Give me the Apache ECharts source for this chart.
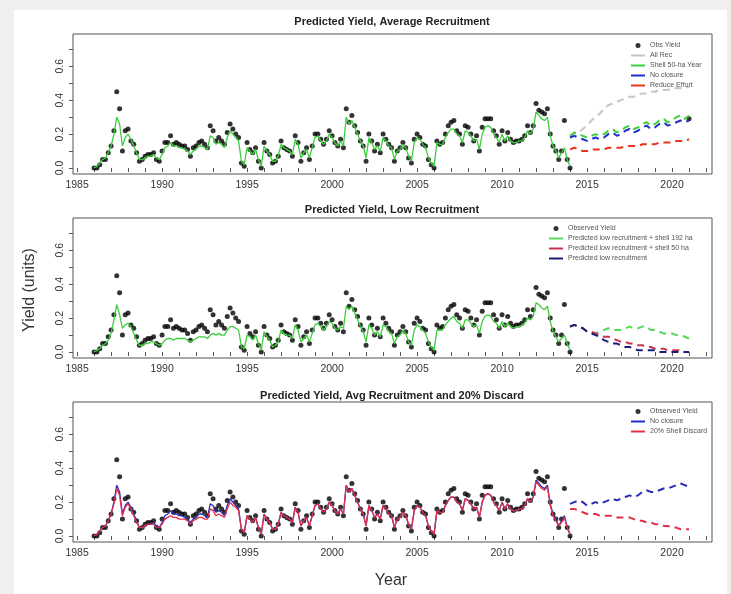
<!DOCTYPE html>
<html><head><meta charset="utf-8">
<script src="https://cdn.jsdelivr.net/npm/echarts@6/dist/echarts.min.js"></script>
<style>html,body{margin:0;padding:0;background:#efefef}#c{width:731px;height:594px}</style>
</head><body><div id="c"></div>
<script>
// ---- time bases ----
const histStartYear = 1986, histPerYear = 6;   // bi-monthly historical samples 1986.0 .. 2014.0
const projStartYear = 2014, projPerYear = 4;   // quarterly projections 2014.0 .. 2021.0

// ---- observed yield ----
const obsYield = [
0.00,0.00,0.02,0.05,0.05,0.09,
0.13,0.22,0.45,0.35,0.10,0.22,
0.23,0.16,0.14,0.09,0.04,0.05,
0.07,0.08,0.08,0.09,0.05,0.04,
0.10,0.15,0.15,0.19,0.14,0.15,
0.14,0.13,0.13,0.11,0.07,0.12,
0.13,0.15,0.16,0.14,0.12,0.25,
0.22,0.16,0.18,0.16,0.14,0.21,
0.26,0.23,0.20,0.18,0.03,0.01,
0.15,0.11,0.09,0.12,0.04,0.00,
0.15,0.10,0.08,0.03,0.04,0.07,
0.16,0.12,0.11,0.10,0.07,0.19,
0.15,0.04,0.09,0.12,0.05,0.13,
0.20,0.20,0.17,0.14,0.17,0.22,
0.19,0.15,0.13,0.17,0.12,0.35,
0.27,0.31,0.25,0.21,0.16,0.13,
0.04,0.20,0.16,0.10,0.14,0.09,
0.20,0.17,0.14,0.12,0.04,0.10,
0.12,0.15,0.12,0.06,0.03,0.17,
0.20,0.18,0.14,0.13,0.05,0.02,
0.00,0.16,0.14,0.15,0.20,0.25,
0.27,0.28,0.22,0.20,0.14,0.25,
0.24,0.20,0.16,0.19,0.10,0.24,
0.29,0.29,0.29,0.22,0.19,0.14,
0.22,0.16,0.21,0.17,0.15,0.16,
0.16,0.17,0.19,0.25,0.21,0.25,
0.38,0.34,0.33,0.32,0.35,0.20,
0.13,0.10,0.05,0.10,0.28,0.05,
0.00];
const finalObsYear = [2021.0];
const finalObsValue = [0.29];

// ---- fitted (historical) ----
const fitAvg = [
0.00,0.01,0.03,0.05,0.06,0.09,
0.13,0.20,0.30,0.26,0.13,0.18,
0.20,0.17,0.13,0.09,0.05,0.05,
0.06,0.07,0.07,0.08,0.06,0.05,
0.08,0.12,0.13,0.15,0.13,0.13,
0.12,0.12,0.11,0.10,0.08,0.10,
0.11,0.13,0.13,0.12,0.11,0.19,
0.18,0.14,0.15,0.14,0.12,0.18,
0.22,0.20,0.18,0.16,0.04,0.02,
0.12,0.10,0.08,0.11,0.05,0.01,
0.13,0.10,0.08,0.04,0.04,0.07,
0.14,0.12,0.11,0.10,0.08,0.17,
0.14,0.06,0.09,0.11,0.06,0.12,
0.18,0.19,0.16,0.14,0.16,0.20,
0.18,0.15,0.13,0.16,0.13,0.30,
0.26,0.28,0.24,0.20,0.16,0.13,
0.06,0.18,0.15,0.11,0.13,0.10,
0.18,0.16,0.13,0.12,0.05,0.10,
0.11,0.14,0.12,0.07,0.04,0.15,
0.18,0.17,0.14,0.12,0.06,0.03,
0.01,0.15,0.14,0.14,0.18,0.21,
0.23,0.23,0.20,0.19,0.15,0.22,
0.21,0.19,0.16,0.17,0.11,0.20,
0.24,0.25,0.24,0.20,0.18,0.15,
0.20,0.16,0.19,0.16,0.15,0.15,
0.16,0.16,0.18,0.22,0.20,0.23,
0.33,0.31,0.29,0.28,0.30,0.19,
0.13,0.10,0.06,0.09,0.12,0.05,
0.01];
const fitLow = [
0.00,0.01,0.02,0.04,0.05,0.07,
0.11,0.19,0.28,0.22,0.14,0.16,
0.17,0.15,0.11,0.07,0.04,0.04,
0.05,0.05,0.06,0.06,0.05,0.04,
0.05,0.07,0.08,0.08,0.07,0.08,
0.08,0.08,0.08,0.07,0.06,0.07,
0.08,0.09,0.09,0.09,0.08,0.10,
0.11,0.10,0.11,0.10,0.10,0.13,
0.15,0.15,0.14,0.13,0.03,0.02,
0.10,0.09,0.07,0.10,0.05,0.01,
0.12,0.09,0.07,0.03,0.04,0.06,
0.13,0.11,0.10,0.10,0.08,0.16,
0.13,0.06,0.08,0.10,0.06,0.11,
0.16,0.17,0.15,0.13,0.15,0.18,
0.17,0.14,0.13,0.15,0.14,0.27,
0.25,0.27,0.23,0.19,0.15,0.12,
0.06,0.16,0.14,0.10,0.12,0.09,
0.16,0.15,0.12,0.11,0.05,0.09,
0.10,0.13,0.11,0.06,0.04,0.13,
0.16,0.15,0.13,0.11,0.06,0.03,
0.01,0.13,0.13,0.13,0.16,0.18,
0.20,0.21,0.18,0.17,0.14,0.19,
0.19,0.17,0.15,0.16,0.11,0.18,
0.21,0.22,0.21,0.18,0.17,0.14,
0.18,0.15,0.17,0.15,0.14,0.15,
0.15,0.16,0.17,0.20,0.19,0.21,
0.29,0.28,0.26,0.25,0.27,0.18,
0.12,0.09,0.06,0.08,0.10,0.05,
0.01];
const fitDiscard = [
0.00,0.01,0.03,0.05,0.06,0.09,
0.13,0.19,0.28,0.24,0.12,0.17,
0.19,0.16,0.12,0.08,0.05,0.05,
0.06,0.07,0.07,0.07,0.05,0.05,
0.07,0.10,0.11,0.12,0.11,0.11,
0.10,0.10,0.10,0.09,0.07,0.09,
0.10,0.11,0.11,0.10,0.10,0.16,
0.15,0.12,0.13,0.12,0.11,0.16,
0.20,0.18,0.17,0.15,0.04,0.02,
0.12,0.10,0.08,0.11,0.05,0.01,
0.13,0.10,0.08,0.04,0.04,0.07,
0.14,0.12,0.11,0.10,0.08,0.17,
0.14,0.06,0.09,0.11,0.06,0.12,
0.18,0.19,0.16,0.14,0.16,0.20,
0.18,0.15,0.13,0.16,0.13,0.30,
0.26,0.28,0.24,0.20,0.16,0.13,
0.06,0.18,0.15,0.11,0.13,0.10,
0.18,0.16,0.13,0.12,0.05,0.10,
0.11,0.14,0.12,0.07,0.04,0.15,
0.18,0.17,0.14,0.12,0.06,0.03,
0.01,0.15,0.14,0.14,0.18,0.21,
0.23,0.23,0.20,0.19,0.15,0.22,
0.21,0.19,0.16,0.17,0.11,0.20,
0.24,0.25,0.24,0.20,0.18,0.15,
0.20,0.16,0.19,0.16,0.15,0.15,
0.16,0.16,0.18,0.22,0.20,0.23,
0.32,0.30,0.28,0.27,0.29,0.18,
0.12,0.09,0.06,0.08,0.11,0.05,
0.01];

// ---- projections (quarterly) ----
const projAllRec       = [0.18,0.20,0.21,0.23, 0.25,0.28,0.30,0.32, 0.35,0.37,0.38,0.39, 0.40,0.41,0.42,0.42, 0.43,0.44,0.44,0.45, 0.45,0.46,0.46,0.46, 0.47,0.47,0.47,0.47, 0.48];
const projShell50      = [0.19,0.21,0.20,0.19, 0.18,0.19,0.20,0.19, 0.20,0.22,0.23,0.21, 0.22,0.24,0.25,0.23, 0.24,0.26,0.27,0.25, 0.26,0.28,0.29,0.27, 0.28,0.30,0.31,0.29, 0.31];
const projNoClosure    = [0.18,0.19,0.18,0.17, 0.16,0.17,0.18,0.17, 0.18,0.20,0.21,0.19, 0.20,0.22,0.23,0.21, 0.22,0.24,0.25,0.23, 0.24,0.26,0.27,0.25, 0.26,0.27,0.28,0.27, 0.28];
const projReduceEffort = [0.11,0.12,0.11,0.10, 0.10,0.11,0.11,0.11, 0.11,0.12,0.12,0.12, 0.12,0.13,0.13,0.13, 0.13,0.14,0.14,0.14, 0.14,0.15,0.15,0.15, 0.15,0.16,0.16,0.16, 0.17];
const projLow192       = [0.15,0.16,0.15,0.14, 0.12,0.12,0.11,0.12, 0.13,0.14,0.13,0.13, 0.13,0.14,0.15,0.14, 0.14,0.15,0.15,0.13, 0.13,0.12,0.11,0.11, 0.11,0.10,0.10,0.09, 0.08];
const projLow50        = [0.15,0.16,0.15,0.14, 0.12,0.12,0.11,0.10, 0.09,0.09,0.08,0.07, 0.06,0.06,0.05,0.05, 0.04,0.04,0.03,0.03, 0.02,0.02,0.02,0.01, 0.01,0.01,0.01,0.00, 0.00];
const projLow          = [0.15,0.16,0.15,0.14, 0.12,0.11,0.10,0.09, 0.07,0.06,0.05,0.05, 0.04,0.03,0.03,0.02, 0.01,0.01,0.01,0.01, 0.01,0.00,0.00,0.00, 0.00,0.00,0.00,0.00, 0.00];
const projNoClosure3   = [0.19,0.20,0.21,0.20, 0.18,0.19,0.20,0.19, 0.20,0.21,0.22,0.21, 0.22,0.23,0.24,0.23, 0.24,0.26,0.27,0.26, 0.26,0.27,0.28,0.28, 0.29,0.30,0.31,0.30, 0.29];
const projDiscard20    = [0.16,0.16,0.15,0.14, 0.13,0.13,0.13,0.12, 0.12,0.12,0.12,0.11, 0.11,0.11,0.11,0.10, 0.09,0.09,0.08,0.08, 0.07,0.07,0.06,0.06, 0.05,0.05,0.04,0.04, 0.04];

// ---- axes ----
const xTickYears  = [1985,1986,1987,1988,1989,1990,1991,1992,1993,1994,1995,1996,1997,1998,1999,2000,2001,2002,2003,2004,2005,2006,2007,2008,2009,2010,2011,2012,2013,2014,2015,2016,2017,2018,2019,2020,2021,2022];
const xLabelYears = [1985,1990,1995,2000,2005,2010,2015,2020];
const yTickValues = [0,0.1,0.2,0.3,0.4,0.5,0.6,0.7];
const yLabelValues= [0,0.2,0.4,0.6];
const panelTitles = ['Predicted Yield, Average Recruitment','Predicted Yield, Low Recruitment','Predicted Yield, Avg Recruitment and 20% Discard'];

function pairs(start, perYear, arr){ return arr.map((v,i)=>[start + i/perYear, v]); }
const hist = a => pairs(histStartYear, histPerYear, a);
const proj = a => pairs(projStartYear, projPerYear, a);

const chart = echarts.init(document.getElementById('c'), null, {renderer:'canvas'});
const gridTops = [34, 218, 402];
const grids = gridTops.map(t => ({left:73, width:639, top:t, height:140, show:true, borderColor:'#555', borderWidth:1, backgroundColor:'#fff'}));
const xAxes = gridTops.map((t,i)=>({type:'value', gridIndex:i, min:1984.76, max:2022.35,
  axisLine:{show:false}, splitLine:{show:false},
  axisTick:{show:true, customValues:xTickYears, length:4, lineStyle:{color:'#555'}},
  axisLabel:{customValues:xLabelYears, fontSize:10.5, color:'#333', margin:6, fontFamily:'Liberation Sans, Arial', formatter:v=>String(v)}}));
const yAxes = gridTops.map((t,i)=>({type:'value', gridIndex:i, min:-0.035, max:0.79,
  axisLine:{show:false}, splitLine:{show:false},
  axisTick:{show:true, customValues:yTickValues, length:4, lineStyle:{color:'#555'}},
  axisLabel:{customValues:yLabelValues, rotate:90, fontSize:10.5, color:'#333', margin:7, fontFamily:'Liberation Sans, Arial', formatter:v=>v.toFixed(1)}}));

const GREEN='#3ccf3c', BLUE='#2030d0', RED='#e8341c', GRAY='#cbc3c3';
const NAVY='#1c1c78', DRED='#c8344e', RED3='#e2304a', BLUE3='#2a2ab8';
const dash = [7,5];
function line(name, idx, data, color, dashed, z){
  return {name, type:'line', xAxisIndex:idx, yAxisIndex:idx, data, symbol:'none', z:z||3,
    lineStyle:{color, width: dashed?2:1.3, type: dashed?dash:'solid'}, itemStyle:{color}, animation:false};
}
function dots(name, idx, data){
  return {name, type:'scatter', xAxisIndex:idx, yAxisIndex:idx, data, symbol:'circle', symbolSize:5, z:2,
    itemStyle:{color:'#000'}, animation:false};
}

const series = [
  // panel 1
  dots('Obs Yield',0,hist(obsYield)),
  dots('Obs Yield',0,finalObsYear.map((y,i)=>[y,finalObsValue[i]])),
  line('All Rec',0,proj(projAllRec),GRAY,true),
  line('fit1',0,hist(fitAvg),GREEN,false),
  line('Shell 50-ha Year',0,proj(projShell50),GREEN,true),
  line('No closure',0,proj(projNoClosure),BLUE,true),
  line('Reduce Effort',0,proj(projReduceEffort),RED,true),
  // panel 2
  dots('Observed Yield',1,hist(obsYield)),
  line('fit2',1,hist(fitLow),GREEN,false),
  line('Predicted low recruitment + shell 192 ha',1,proj(projLow192),'#58d858',true),
  line('Predicted low recruitment + shell 50 ha',1,proj(projLow50),DRED,true),
  line('Predicted low recruitment',1,proj(projLow),NAVY,true),
  // panel 3
  dots('Observed Yield',2,hist(obsYield)),
  line('fit3b',2,hist(fitAvg),BLUE3,false),
  line('fit3r',2,hist(fitDiscard),RED3,false),
  line('No closure',2,proj(projNoClosure3),BLUE3,true),
  line('20% Shell Discard',2,proj(projDiscard20),RED3,true)
];

const lineItem = name => ({name, itemStyle:{opacity:0}, lineStyle:{type:'solid', width:2}});
const dotItem = name => ({name, icon:'circle'});
const legendBase = {orient:'vertical', itemWidth:14, itemHeight:5, itemGap:3, selectedMode:false,
  textStyle:{fontSize:7, color:'#555', fontFamily:'Liberation Sans, Arial'}, padding:0};
const legends = [
  Object.assign({}, legendBase, {left:630, top:42, data:[dotItem('Obs Yield'),lineItem('All Rec'),lineItem('Shell 50-ha Year'),lineItem('No closure'),lineItem('Reduce Effort')]}),
  Object.assign({}, legendBase, {left:548, top:225, data:[dotItem('Observed Yield'),lineItem('Predicted low recruitment + shell 192 ha'),lineItem('Predicted low recruitment + shell 50 ha'),lineItem('Predicted low recruitment')]}),
  Object.assign({}, legendBase, {left:630, top:408, data:[dotItem('Observed Yield'),lineItem('No closure'),lineItem('20% Shell Discard')]})
];

const titleY = [22, 210, 396];
const graphic = [
  {type:'rect', shape:{x:14,y:10,width:713,height:584}, style:{fill:'#fff'}, z:-10, silent:true},
  ...panelTitles.map((t,i)=>({type:'text', x:392, y:titleY[i], style:{text:t, align:'center', verticalAlign:'middle', font:'bold 11px "Liberation Sans", Arial', fill:'#222'}})),
  {type:'text', x:30, y:290, rotation:Math.PI/2, style:{text:'Yield (units)', align:'center', verticalAlign:'middle', font:'16px "Liberation Sans", Arial', fill:'#333'}},
  {type:'text', x:391, y:581, style:{text:'Year', align:'center', verticalAlign:'middle', font:'16px "Liberation Sans", Arial', fill:'#333'}}
];

chart.setOption({animation:false, backgroundColor:'transparent', grid:grids, xAxis:xAxes, yAxis:yAxes, series, legend:legends, graphic});
</script></body></html>
